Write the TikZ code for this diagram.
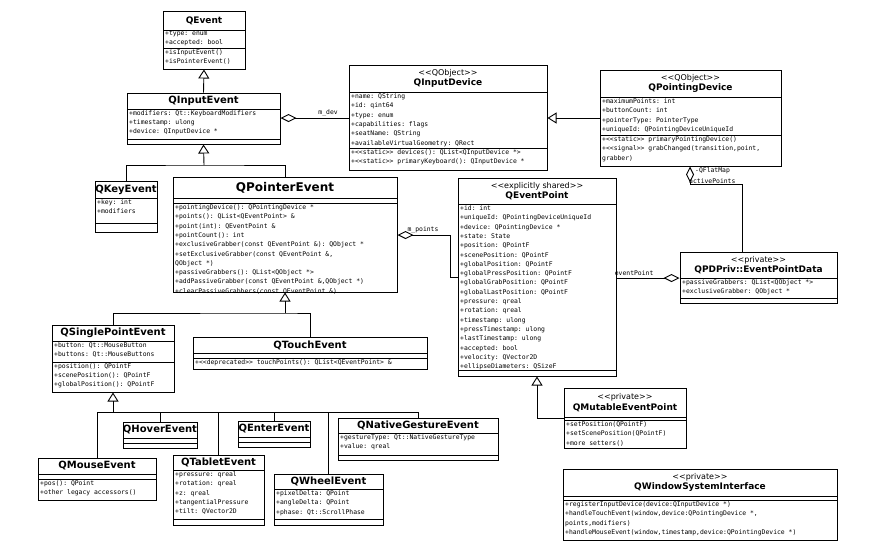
\documentclass[tikz,border=0pt]{standalone}
\usepackage{fontspec}
\setmainfont{DejaVu Sans}
\setmonofont{DejaVu Sans Mono}
\usetikzlibrary{arrows.meta,calc}
\tikzset{
 box/.style={draw,line width=1pt,inner sep=0,fill=white},
 hd/.style={font=\bfseries\fontsize{9}{10.5}\selectfont,align=center,inner sep=0},
 txt/.style={font=\ttfamily\fontsize{6.4}{9.3}\selectfont,align=left,inner sep=0,anchor=north west},
 lbl/.style={font=\ttfamily\fontsize{6.4}{8}\selectfont,inner sep=0},
 gen/.style={-{Triangle[open,length=9pt,width=11pt]},line width=0.9pt},
 agg/.style={{Diamond[open,length=16pt,width=8pt]}-,line width=0.9pt},
 ln/.style={line width=0.9pt}
}
\newcommand\st[1]{{\mdseries\fontsize{8}{9.5}\selectfont #1}}
% name x1 y1 x2 y2 sep1 sep2 header
\newcommand\umlc[8]{%
 \node[box,minimum width={#4pt-#2pt},minimum height={#5pt-#3pt}] (#1) at ({(#2+#4)/2},{(#3+#5)/2}) {};
 \draw[line width=1pt] (#2,#6) -- (#4,#6);
 \draw[line width=1pt] (#2,#7) -- (#4,#7);
 \node[hd] (#1-h) at ({(#2+#4)/2},{(#3+#6)/2}) {#8};
}
\begin{document}
\begin{tikzpicture}[x=1pt,y=-1pt]
\path[use as bounding box,fill=white] (0,0) rectangle (884,550);

\umlc{qev}{163}{11}{245}{69}{30}{48}{QEvent}
\node[txt] (qev-a) at (165,31) {+type: enum\\+accepted: bool};
\node[txt] (qev-m) at (165,49.5) {+isInputEvent()\\+isPointerEvent()};

\umlc{qie}{127}{93}{280}{144}{109}{139}{\fontsize{10}{11}\selectfont QInputEvent}
\node[txt] (qie-a) at (129,110) {+modifiers: Qt::KeyboardModifiers\\+timestamp: ulong\\+device: QInputDevice *};

\umlc{qke}{95}{181}{157}{232}{198}{223}{\fontsize{10}{11}\selectfont QKeyEvent}
\node[txt] (qke-a) at (97,199) {+key: int\\+modifiers};

\umlc{qpe}{173}{177}{397}{292}{198}{203}{\fontsize{12}{13}\selectfont QPointerEvent}
\node[txt] (qpe-m) at (175,204.5) {+pointingDevice(): QPointingDevice *\\+points(): QList<QEventPoint> \&\\+point(int): QEventPoint \&\\+pointCount(): int\\+exclusiveGrabber(const QEventPoint \&): QObject *\\+setExclusiveGrabber(const QEventPoint \&,\\QObject *)\\+passiveGrabbers(): QList<QObject *>\\+addPassiveGrabber(const QEventPoint \&,QObject *)\\+clearPassiveGrabbers(const QEventPoint \&)};

\umlc{qid}{349}{65}{547}{170}{92}{148}{\st{<{}<QObject>{}>}\\QInputDevice}
\node[txt] (qid-a) at (351,93.5) {+name: QString\\+id: qint64\\+type: enum\\+capabilities: flags\\+seatName: QString\\+availableVirtualGeometry: QRect};
\node[txt] (qid-m) at (351,149.5) {+<{}<static>{}> devices(): QList<QInputDevice *>\\+<{}<static>{}> primaryKeyboard(): QInputDevice *};

\umlc{qpd}{600}{70}{781}{166}{97}{135}{\st{<{}<QObject>{}>}\\QPointingDevice}
\node[txt] (qpd-a) at (602,98.5) {+maximumPoints: int\\+buttonCount: int\\+pointerType: PointerType\\+uniqueId: QPointingDeviceUniqueId};
\node[txt] (qpd-m) at (602,136.5) {+<{}<static>{}> primaryPointingDevice()\\+<{}<signal>{}> grabChanged(transition,point,\\grabber)};

\umlc{qep}{458}{178}{616}{376}{204}{370}{\st{<{}<explicitly shared>{}>}\\QEventPoint}
\node[txt] (qep-a) at (460,205.5) {+id: int\\+uniqueId: QPointingDeviceUniqueId\\+device: QPointingDevice *\\+state: State\\+position: QPointF\\+scenePosition: QPointF\\+globalPosition: QPointF\\+globalPressPosition: QPointF\\+globalGrabPosition: QPointF\\+globalLastPosition: QPointF\\+pressure: qreal\\+rotation: qreal\\+timestamp: ulong\\+pressTimestamp: ulong\\+lastTimestamp: ulong\\+accepted: bool\\+velocity: QVector2D\\+ellipseDiameters: QSizeF};

\umlc{qpdp}{680}{252}{837}{303}{278}{298}{\st{<{}<private>{}>}\\QPDPriv::EventPointData}
\node[txt] (qpdp-a) at (682,279.5) {+passiveGrabbers: QList<QObject *>\\+exclusiveGrabber: QObject *};

\umlc{qsp}{52}{325}{174}{392}{341}{362}{\fontsize{10}{11}\selectfont QSinglePointEvent}
\node[txt] (qsp-a) at (54,342) {+button: Qt::MouseButton\\+buttons: Qt::MouseButtons};
\node[txt] (qsp-m) at (54,363) {+position(): QPointF\\+scenePosition(): QPointF\\+globalPosition(): QPointF};

\umlc{qte}{193}{337}{427}{369}{353}{358}{\fontsize{10}{11}\selectfont QTouchEvent}
\node[txt] (qte-m) at (195,359.5) {+<{}<deprecated>{}> touchPoints(): QList<QEventPoint> \&};

\umlc{qhe}{123}{422}{197}{448}{438}{443}{\fontsize{10}{11}\selectfont QHoverEvent}
\umlc{qene}{238}{421}{310}{447}{437}{442}{\fontsize{10}{11}\selectfont QEnterEvent}

\umlc{qng}{338}{418}{498}{460}{433}{455}{\fontsize{10}{11}\selectfont QNativeGestureEvent}
\node[txt] (qng-a) at (340,434.5) {+gestureType: Qt::NativeGestureType\\+value: qreal};

\umlc{qme}{38}{458}{156}{500}{474}{479}{\fontsize{10}{11}\selectfont QMouseEvent}
\node[txt] (qme-m) at (40,480.5) {+pos(): QPoint\\+other legacy accessors()};

\umlc{qta}{173}{455}{264}{525}{470}{519}{\fontsize{10}{11}\selectfont QTabletEvent}
\node[txt] (qta-a) at (175,471.5) {+pressure: qreal\\+rotation: qreal\\+z: qreal\\+tangentialPressure\\+tilt: QVector2D};

\umlc{qwe}{274}{474}{383}{525}{489}{519}{\fontsize{10}{11}\selectfont QWheelEvent}
\node[txt] (qwe-a) at (276,490.5) {+pixelDelta: QPoint\\+angleDelta: QPoint\\+phase: Qt::ScrollPhase};

\umlc{qmep}{564}{388}{686}{448}{417}{420}{\st{<{}<private>{}>}\\QMutableEventPoint}
\node[txt] (qmep-m) at (566,421.5) {+setPosition(QPointF)\\+setScenePosition(QPointF)\\+more setters()};

\umlc{qwsi}{563}{469}{837}{540}{496}{500}{\st{<{}<private>{}>}\\QWindowSystemInterface}
\node[txt] (qwsi-m) at (565,501.5) {+registerInputDevice(device:QInputDevice *)\\+handleTouchEvent(window,device:QPointingDevice *,\\points,modifiers)\\+handleMouseEvent(window,timestamp,device:QPointingDevice *)};

% generalizations
\draw[gen] (qie.north) -- (qev.south);
\coordinate (j1) at (204,165);
\draw[gen] (j1) -- (qie.south);
\draw[ln] (qke.north) |- (j1) -| (qpe.north);
\coordinate (j2) at (285,313);
\draw[gen] (j2) -- (qpe.south);
\draw[ln] (qsp.north) |- (j2) -| (qte.north);
\coordinate (j3) at (113,412);
\draw[gen] (j3) -- (qsp.south);
\draw[ln] (qme.north) |- (j3);
\draw[ln] (j3) -| (qng.north);
\draw[ln] (qhe.north) -- (qhe.north |- j3);
\draw[ln] (qta.north) -- (qta.north |- j3);
\draw[ln] (qene.north) -- (qene.north |- j3);
\draw[ln] (qwe.north) -- (qwe.north |- j3);
\draw[gen] (qpd.west |- 0,118) -- (qid.east |- 0,118);
\coordinate (j4) at (537,418);
\draw[gen] (qmep.west |- j4) -- (j4) -- (qep.south -| j4);

% aggregations
\draw[agg] (qie.east |- 0,118) -- (qid.west |- 0,118) node[lbl,pos=0.7,above=1.5pt] (l1) {m\_dev};
\coordinate (j5) at (450,235);
\draw[agg] (qpe.east |- j5) -- (j5) |- (qep.west |- 0,277);
\node[lbl] (l2) at (423,230) {m\_points};
\draw[agg] (qpdp.west |- 0,278) -- (qep.east |- 0,278) node[lbl,pos=0.72,above=1.5pt] (l3) {eventPoint};
\coordinate (j6) at (690,184);
\draw[agg] (qpd.south -| j6) -- (j6) -| (qpdp.north -| 742,0);
\node[lbl,anchor=west] (l4) at (695,171) {-QFlatMap};
\node[lbl,anchor=west] (l5) at (689,181) {activePoints};
\end{tikzpicture}
\end{document}
